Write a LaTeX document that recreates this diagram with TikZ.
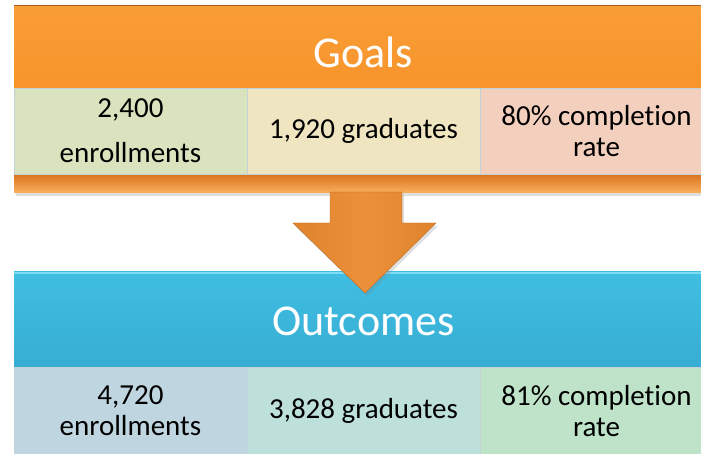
\documentclass[tikz,border=0pt]{standalone}
\usepackage{fontspec}
\setmainfont[Ligatures=NoCommon]{Carlito}
\usetikzlibrary{shadows}
\definecolor{goalTop}{HTML}{F99D36}
\definecolor{goalBot}{HTML}{F7942B}
\definecolor{goalRim}{HTML}{D9731D}
\definecolor{goalA}{HTML}{D9E4BF}
\definecolor{goalB}{HTML}{EFE5C0}
\definecolor{goalC}{HTML}{F3CFBE}
\definecolor{outTop}{HTML}{40BEE2}
\definecolor{outBot}{HTML}{37ADD4}
\definecolor{outRim}{HTML}{7FDCF5}
\definecolor{outA}{HTML}{BFD5DF}
\definecolor{outB}{HTML}{BEE0DB}
\definecolor{outC}{HTML}{BEE3C9}
\definecolor{arrowFill}{HTML}{EB8A2F}
\definecolor{cellLine}{HTML}{C3D2D8}
\begin{document}
\begin{tikzpicture}[x=1pt,y=-1pt,
    header/.style={inner sep=0pt, minimum width=699pt, text=white,
      font=\fontsize{44}{50}\selectfont},
    cell/.style={inner sep=0pt, minimum width=233pt, minimum height=86pt,
      align=center, draw=cellLine, line width=.6pt,
      font=\fontsize{29}{31}\selectfont},
    boxshadow/.style={drop shadow={shadow xshift=2pt, shadow yshift=-3pt, opacity=.25}}]
  \useasboundingbox (0,0) rectangle (701,454);
  \clip (0,0) rectangle (701,454);
  % goals block
  \fill[boxshadow, goalRim] (14,6) rectangle (713,193);
  \shade[top color=goalRim, bottom color=goalTop!80!white] (14,174) rectangle (713,193);
  \node[header, minimum height=82pt, text height=42pt, text depth=0pt,
    top color=goalTop, bottom color=goalBot] (goals) at (363.5,47) {Goals};
  \draw[goalRim!80!black, line width=1pt] (goals.north west) -- (goals.north east);
  \foreach \name/\col/\txt [count=\i] in {
      g1/goalA/{2,400\\[14pt]enrollments},
      g2/goalB/{1,920 graduates},
      g3/goalC/{80\% completion\\rate}} {
    \node[cell, fill=\col] (\name) at ({14+233*\i-116.5},131) {\txt}; }
  % outcomes block
  \fill[boxshadow, outBot] (14,272) rectangle (713,460);
  \node[header, minimum height=95pt, text height=31pt, text depth=0pt,
    top color=outTop, bottom color=outBot] (outcomes) at (363.5,319.5) {Outcomes};
  \draw[outRim, line width=2pt] ([yshift=-1pt]outcomes.north west) -- ([yshift=-1pt]outcomes.north east);
  \foreach \name/\col/\txt [count=\i] in {
      o1/outA/{4,720\\enrollments},
      o2/outB/{3,828 graduates},
      o3/outC/{81\% completion\\rate}} {
    \node[cell, fill=\col, minimum height=88pt] (\name) at ({14+233*\i-116.5},411) {\txt}; }
  % arrow from goals to outcomes
  \shade[boxshadow, left color=arrowFill!95!black, right color=arrowFill!95!black,
    middle color=arrowFill!95!white, draw=arrowFill!80!black, line width=.4pt]
    (330,192) -- (402,192) -- (402,223) -- (436,223) -- (365,293)
    -- (293,223) -- (330,223) -- cycle;
\end{tikzpicture}
\end{document}
